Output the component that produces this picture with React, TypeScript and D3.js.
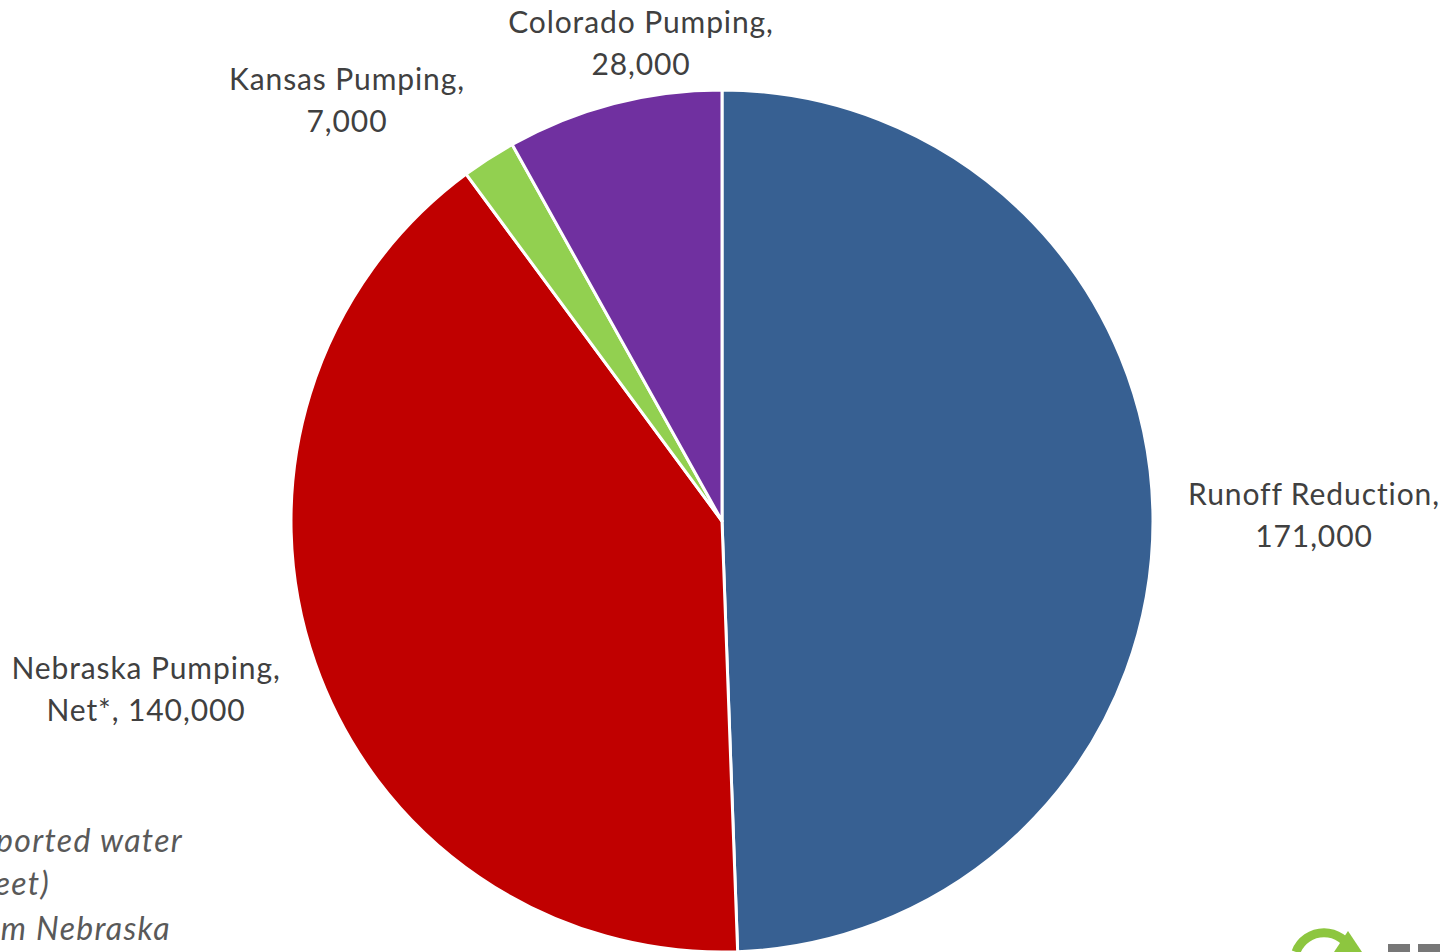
import React from "react";
import * as d3 from "d3";

const categories = ["Runoff Reduction", "Nebraska Pumping, Net*", "Kansas Pumping", "Colorado Pumping"];
const values = [171000, 140000, 7000, 28000];
const colors = ["#376092", "#C00000", "#92D050", "#7030A0"];
const labelLines = [
  ["Runoff Reduction,", "171,000"],
  ["Nebraska Pumping,", "Net*, 140,000"],
  ["Kansas Pumping,", "7,000"],
  ["Colorado Pumping,", "28,000"],
];
const labelPos = [
  [1314, 505],
  [146, 679],
  [347, 90],
  [641, 33],
];
const noteLines = ["ported water", "eet)", "m Nebraska"];
const noteEnds = [[183, 852], [50, 895], [171, 940]];

export default function App() {
  const W = 1449, H = 952;
  const cx = 722, cy = 521, r = 431;
  const pie = d3.pie<number>().sort(null).value((d) => d)(values);
  const arc = d3.arc<d3.PieArcDatum<number>>().innerRadius(0).outerRadius(r);
  const font = "Lato, 'Open Sans', sans-serif";
  return (
    <svg width={W} height={H} style={{ position: "absolute", left: 0, top: 0 }} viewBox={`0 0 ${W} ${H}`}>
      <rect width={W} height={H} fill="#ffffff" />
      <g transform={`translate(${cx},${cy})`}>
        {pie.map((p, i) => (
          <path key={categories[i]} d={arc(p) || ""} fill={colors[i]} stroke="#ffffff" strokeWidth={3} strokeLinejoin="round" />
        ))}
      </g>
      {labelLines.map((lines, i) => (
        <text key={i} x={labelPos[i][0]} y={labelPos[i][1]} textAnchor="middle" fontFamily={font} fontSize={30} letterSpacing={0.9} fill="#404040">
          {lines.map((l, j) => (
            <tspan key={j} x={labelPos[i][0]} dy={j === 0 ? 0 : 42}>{l}</tspan>
          ))}
        </text>
      ))}
      {noteLines.map((l, i) => (
        <text key={l} x={noteEnds[i][0]} y={noteEnds[i][1]} textAnchor="end" fontFamily={font} fontStyle="italic" fontSize={32} letterSpacing={1.3} fill="#595959">{l}</text>
      ))}
      <g>
        <path d="M1296,952 A30,30 0 0 1 1352,952" fill="none" stroke="#8DC63F" strokeWidth={9} />
        <path d="M1334,952 L1348,931 L1362,952 Z" fill="#8DC63F" />
        <rect x={1388} y={944} width={22} height={8} fill="#777777" />
        <rect x={1418} y={944} width={22} height={8} fill="#777777" />
      </g>
    </svg>
  );
}
